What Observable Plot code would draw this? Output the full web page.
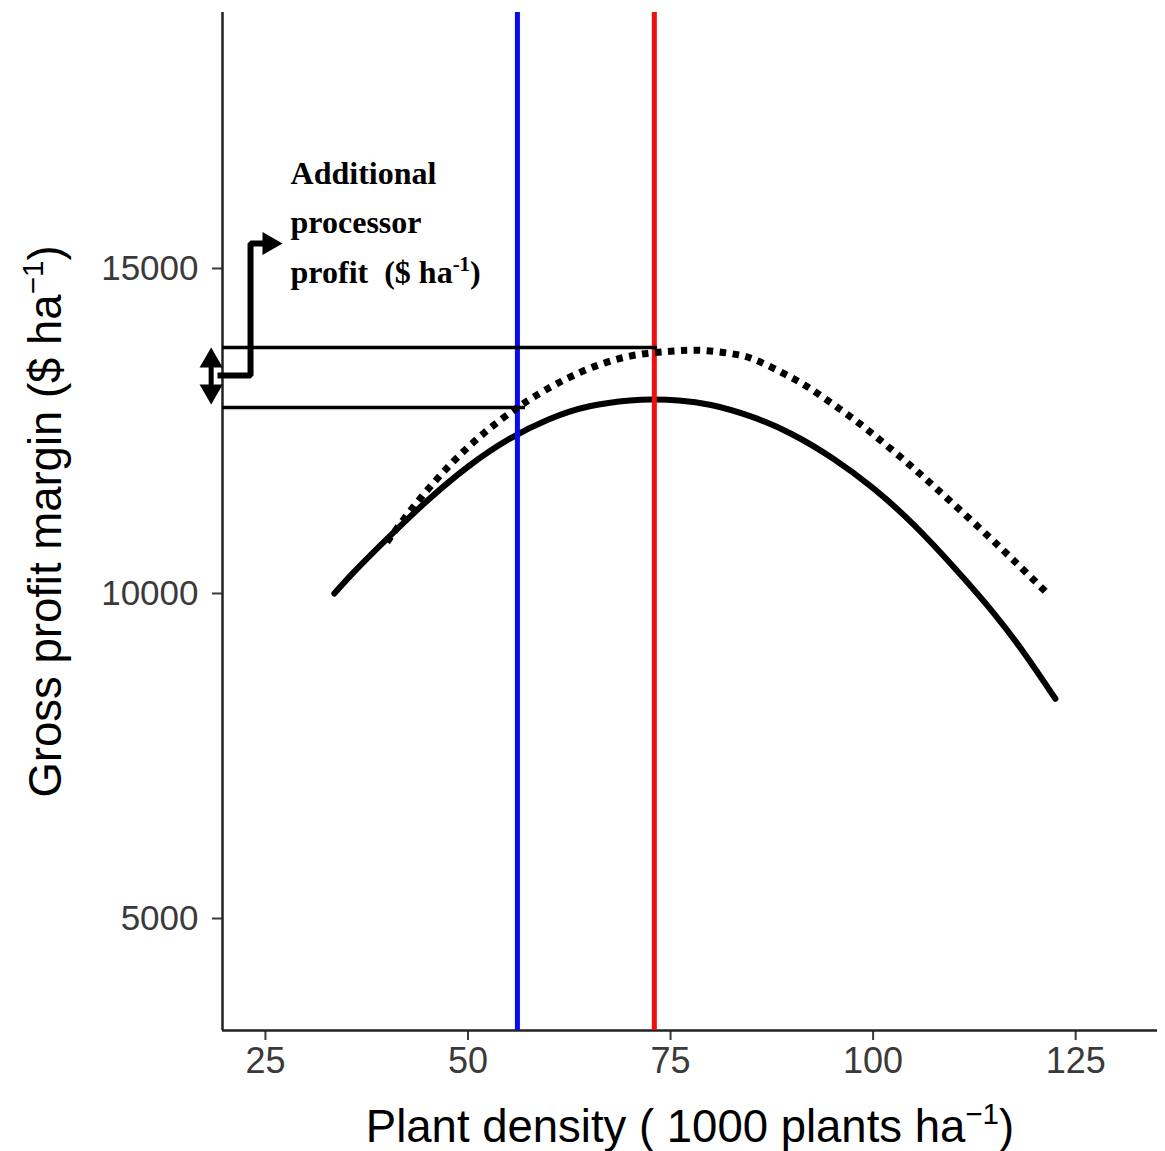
<!DOCTYPE html>
<html><head><meta charset="utf-8">
<script src="https://cdn.jsdelivr.net/npm/d3@7"></script>
<script src="https://cdn.jsdelivr.net/npm/@observablehq/plot@0.6"></script>
<style>
html,body{margin:0;padding:0;background:#fff;}
svg text{white-space:pre;}
</style></head><body><div id="chart"></div>
<script>
// axis domain & ticks
const xDomain = [19.7, 135.1];
const yDomain = [3277, 18938];
const densityTicks = [25, 50, 75, 100, 125];
const marginTicks = [5000, 10000, 15000];

// solid curve (gross profit margin)
const solidX = [33.5, 36, 40, 45, 50, 55, 60, 65, 70, 73, 76, 80, 85, 90, 95, 100, 105, 110, 115, 119, 122.5];
const solidY = [10000, 10340, 10840, 11430, 11950, 12370, 12680, 12880, 12970, 12985, 12970, 12900, 12720, 12450, 12080, 11620, 11060, 10400, 9680, 9020, 8380];

// dotted curve
const dottedX = [40, 42, 44, 46, 48, 50, 52, 54, 56, 58, 61, 65, 70, 75, 79, 83, 86, 90, 93, 97, 100, 104, 108, 113, 117, 121.5];
const dottedY = [10790, 11130, 11446, 11738, 12006, 12250, 12470, 12670, 12850, 13014, 13230, 13462, 13652, 13727, 13739, 13679, 13565, 13317, 13089, 12737, 12449, 12033, 11593, 11023, 10551, 10002];

// optimum densities (vertical lines)
const optimumDensity = [56.1, 73.0];
const optimumColor = ["#0a0af0", "#f01010"];

// reference levels (horizontal lines)
const refLevel = [13784, 12861];
const refEnd = [73.4, 57.1];

// annotation: double arrow shaft, step connector, arrow heads
const shaftX = [18.3, 18.3];
const shaftY = [13580, 13112];
const stepX = [19.08, 23.16, 23.16, 24.7];
const stepY = [13353, 13353, 15384, 15384];
const headX = [18.3, 18.3, 25.46];
const headY = [13580, 13112, 15384];
const headRotate = [0, 180, 90];

// annotation text
const noteLines = ["Additional", "processor", "profit  ($ ha^-1^)"];
const noteX = [28.1, 28.1, 28.1];
const noteY = [16307, 15553, 14769];

const xTitle = "Plant density ( 1000 plants ha^\u22121^)";
const yTitle = "Gross profit margin ($ ha^\u22121^)";

const plot = Plot.plot({
  width: 1165, height: 1151,
  marginLeft: 222, marginRight: 8, marginTop: 12, marginBottom: 121,
  x: {domain: xDomain},
  y: {domain: yDomain},
  color: {type: "identity"},
  style: {background: "#fff", fontFamily: "'Liberation Sans', Arial, sans-serif", color: "#3a3a3a"},
  marks: [
    Plot.axisX({ticks: densityTicks, tickSize: 10, tickPadding: 7, fontSize: 36, label: null, tickFormat: d => String(d), strokeWidth: 2}),
    Plot.axisY({ticks: marginTicks, tickSize: 10, tickPadding: 14, fontSize: 35, label: null, tickFormat: d => String(d), strokeWidth: 2}),
    Plot.ruleX([xDomain[0]], {stroke: "#222", strokeWidth: 2.5}),
    Plot.ruleY([yDomain[0]], {stroke: "#222", strokeWidth: 2.5}),
    Plot.text([xTitle], {frameAnchor: "bottom", textAnchor: "middle", lineAnchor: "middle", dy: 97, fontSize: 45.5, fill: "black"}),
    Plot.text([yTitle], {frameAnchor: "left", textAnchor: "middle", lineAnchor: "middle", dx: -176, rotate: -90, fontSize: 45.5, fill: "black"}),
    Plot.line(solidX, {x: solidX, y: solidY, stroke: "black", strokeWidth: 6, curve: "natural"}),
    Plot.ruleX(optimumDensity, {x: optimumDensity, stroke: optimumColor, strokeWidth: 5}),
    Plot.line(dottedX, {x: dottedX, y: dottedY, stroke: "black", strokeWidth: 7, strokeDasharray: "6.5 6.5", strokeLinecap: "butt", strokeLinejoin: "miter", curve: "natural"}),
    Plot.ruleY(refLevel, {y: refLevel, x1: refLevel.map(() => xDomain[0]), x2: refEnd, stroke: "black", strokeWidth: 3.5}),
    Plot.line(shaftX, {x: shaftX, y: shaftY, stroke: "black", strokeWidth: 5}),
    Plot.line(stepX, {x: stepX, y: stepY, stroke: "black", strokeWidth: 6, strokeLinejoin: "miter", strokeLinecap: "butt"}),
    Plot.dot(headX, {x: headX, y: headY, symbol: "triangle", r: 8.6, fill: "black", stroke: null, rotate: headRotate}),
    Plot.text(noteLines, {x: noteX, y: noteY, text: d => d, textAnchor: "start", lineAnchor: "bottom", fontFamily: "'Liberation Serif', 'Times New Roman', serif", fontWeight: "bold", fontSize: 32, fill: "black"})
  ]
});

// superscripts: text between ^...^ is raised and smaller
d3.select(plot).selectAll("text").each(function() {
  const t = this.textContent;
  if (!t.includes("^")) return;
  const parts = t.split("^");
  const el = d3.select(this);
  el.text(null);
  parts.forEach((p, i) => {
    if (!p) return;
    const ts = el.append("tspan").text(p);
    if (i % 2 === 1) {
      ts.attr("font-size", "65%").attr("dy", "-0.62em");
    } else if (i > 0) {
      ts.attr("dy", (0.62 * 0.65) + "em");
    }
  });
});

document.getElementById("chart").appendChild(plot);
</script></body></html>
